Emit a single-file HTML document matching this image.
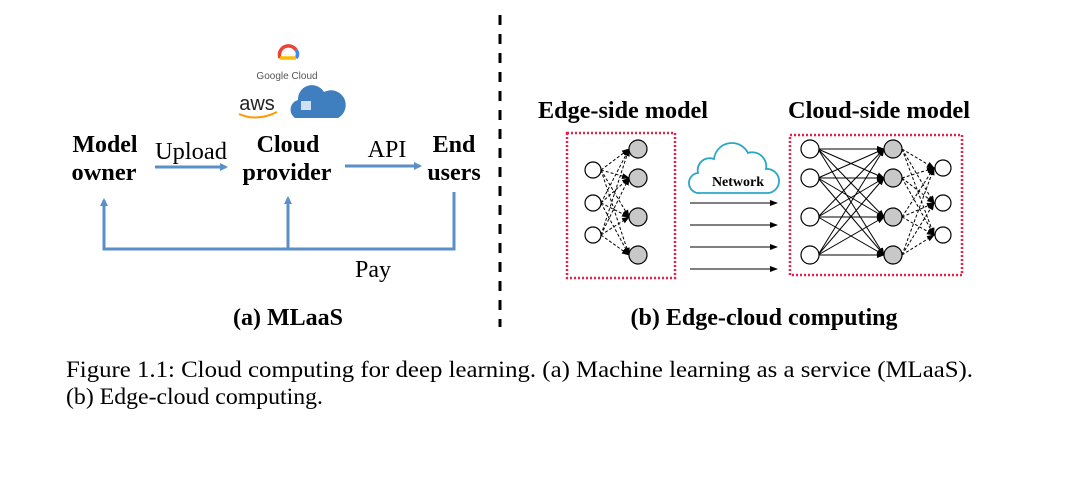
<!DOCTYPE html>
<html><head><style>
body{margin:0;background:#fff;}
svg text{font-family:"Liberation Serif",serif;}
</style></head><body>
<svg width="1080" height="493" viewBox="0 0 1080 493" xmlns="http://www.w3.org/2000/svg">
<defs>
<marker id="ba" markerWidth="8" markerHeight="8" refX="6" refY="4" orient="auto" markerUnits="userSpaceOnUse"><path d="M0,0 L8,4 L0,8 z" fill="#5b8fc7"/></marker>
<marker id="ka" markerWidth="8" markerHeight="8" refX="7" refY="4" orient="auto" markerUnits="userSpaceOnUse"><path d="M0,1 L8,4 L0,7 z" fill="#000"/></marker>
</defs>
<g>
<path d="M280,58 a9,9 0 0 1 16,-8" fill="none" stroke="#ea4335" stroke-width="3.5"/>
<path d="M296,50 a6,6 0 0 1 0,8" fill="none" stroke="#4285f4" stroke-width="3.5"/>
<path d="M280,58 h16" stroke="#fbbc04" stroke-width="3.5"/>
<text x="287" y="79" font-size="10" fill="#555" text-anchor="middle" style="font-family:'Liberation Sans',sans-serif">Google Cloud</text>
<text x="257" y="110" font-size="20" fill="#222" text-anchor="middle" style="font-family:'Liberation Sans',sans-serif">aws</text>
<path d="M239,114 q18,8 38,-2" stroke="#f90" stroke-width="2" fill="none"/>
<path d="M295,118 a10,10 0 0 1 3,-18 a14,14 0 0 1 26,-8 a13,13 0 0 1 14,26 z" fill="#3f7fc0"/>
<rect x="301" y="101" width="10" height="9" fill="#cfe0f2"/>
</g>
<g font-weight="bold" font-size="24" text-anchor="middle">
<text x="105" y="152" textLength="65" lengthAdjust="spacingAndGlyphs">Model</text><text x="104" y="180" textLength="65" lengthAdjust="spacingAndGlyphs">owner</text>
<text x="288" y="152">Cloud</text><text x="287" y="180">provider</text>
<text x="454" y="152">End</text><text x="454" y="180">users</text>
</g>
<text x="191" y="159" font-size="24" text-anchor="middle" textLength="72" lengthAdjust="spacingAndGlyphs">Upload</text>
<text x="387" y="157" font-size="24" text-anchor="middle">API</text>
<text x="373" y="277" font-size="24" text-anchor="middle">Pay</text>
<g stroke="#5b8fc7" stroke-width="3" fill="none">
<line x1="155" y1="167" x2="226" y2="167" marker-end="url(#ba)"/>
<line x1="345" y1="166" x2="420" y2="166" marker-end="url(#ba)"/>
<polyline points="454,192 454,249 104,249 104,200" marker-end="url(#ba)"/>
<line x1="288" y1="249" x2="288" y2="198" marker-end="url(#ba)"/>
</g>
<text x="288" y="325" font-size="24" font-weight="bold" text-anchor="middle">(a) MLaaS</text>
<line x1="500" y1="15" x2="500" y2="327" stroke="#000" stroke-width="3" stroke-dasharray="10,9"/>
<text x="623" y="118" font-size="24" font-weight="bold" text-anchor="middle" textLength="170" lengthAdjust="spacingAndGlyphs">Edge-side model</text>
<text x="879" y="118" font-size="24" font-weight="bold" text-anchor="middle" textLength="182" lengthAdjust="spacingAndGlyphs">Cloud-side model</text>
<rect x="567" y="133" width="108" height="145" fill="none" stroke="#e8204a" stroke-width="2.5" stroke-dasharray="2,2"/>
<rect x="790" y="135" width="172" height="140" fill="none" stroke="#e8204a" stroke-width="2.5" stroke-dasharray="2,2"/>
<g stroke="#000" stroke-width="1" stroke-dasharray="3,2">
<line x1="601" y1="170" x2="629" y2="149" marker-end="url(#ka)"/><line x1="601" y1="170" x2="629" y2="178" marker-end="url(#ka)"/><line x1="601" y1="170" x2="629" y2="217" marker-end="url(#ka)"/><line x1="601" y1="170" x2="629" y2="255" marker-end="url(#ka)"/>
<line x1="601" y1="203" x2="629" y2="149" marker-end="url(#ka)"/><line x1="601" y1="203" x2="629" y2="178" marker-end="url(#ka)"/><line x1="601" y1="203" x2="629" y2="217" marker-end="url(#ka)"/><line x1="601" y1="203" x2="629" y2="255" marker-end="url(#ka)"/>
<line x1="601" y1="235" x2="629" y2="149" marker-end="url(#ka)"/><line x1="601" y1="235" x2="629" y2="178" marker-end="url(#ka)"/><line x1="601" y1="235" x2="629" y2="217" marker-end="url(#ka)"/><line x1="601" y1="235" x2="629" y2="255" marker-end="url(#ka)"/>
<line x1="902" y1="149" x2="934" y2="168" marker-end="url(#ka)"/><line x1="902" y1="149" x2="934" y2="203" marker-end="url(#ka)"/><line x1="902" y1="149" x2="934" y2="235" marker-end="url(#ka)"/>
<line x1="902" y1="178" x2="934" y2="168" marker-end="url(#ka)"/><line x1="902" y1="178" x2="934" y2="203" marker-end="url(#ka)"/><line x1="902" y1="178" x2="934" y2="235" marker-end="url(#ka)"/>
<line x1="902" y1="217" x2="934" y2="168" marker-end="url(#ka)"/><line x1="902" y1="217" x2="934" y2="203" marker-end="url(#ka)"/><line x1="902" y1="217" x2="934" y2="235" marker-end="url(#ka)"/>
<line x1="902" y1="255" x2="934" y2="168" marker-end="url(#ka)"/><line x1="902" y1="255" x2="934" y2="203" marker-end="url(#ka)"/><line x1="902" y1="255" x2="934" y2="235" marker-end="url(#ka)"/>
</g>
<g stroke="#000" stroke-width="1">
<line x1="818" y1="149" x2="884" y2="149" marker-end="url(#ka)"/><line x1="818" y1="149" x2="884" y2="178" marker-end="url(#ka)"/><line x1="818" y1="149" x2="884" y2="217" marker-end="url(#ka)"/><line x1="818" y1="149" x2="884" y2="255" marker-end="url(#ka)"/>
<line x1="818" y1="178" x2="884" y2="149" marker-end="url(#ka)"/><line x1="818" y1="178" x2="884" y2="178" marker-end="url(#ka)"/><line x1="818" y1="178" x2="884" y2="217" marker-end="url(#ka)"/><line x1="818" y1="178" x2="884" y2="255" marker-end="url(#ka)"/>
<line x1="818" y1="217" x2="884" y2="149" marker-end="url(#ka)"/><line x1="818" y1="217" x2="884" y2="178" marker-end="url(#ka)"/><line x1="818" y1="217" x2="884" y2="217" marker-end="url(#ka)"/><line x1="818" y1="217" x2="884" y2="255" marker-end="url(#ka)"/>
<line x1="818" y1="255" x2="884" y2="149" marker-end="url(#ka)"/><line x1="818" y1="255" x2="884" y2="178" marker-end="url(#ka)"/><line x1="818" y1="255" x2="884" y2="217" marker-end="url(#ka)"/><line x1="818" y1="255" x2="884" y2="255" marker-end="url(#ka)"/>
<line x1="690" y1="203" x2="777" y2="203" marker-end="url(#ka)"/>
<line x1="690" y1="225" x2="777" y2="225" marker-end="url(#ka)"/>
<line x1="690" y1="247" x2="777" y2="247" marker-end="url(#ka)"/>
<line x1="690" y1="269" x2="777" y2="269" marker-end="url(#ka)"/>
</g>
<g stroke="#000" stroke-width="1.2">
<circle cx="593" cy="170" r="8" fill="#fff"/><circle cx="593" cy="203" r="8" fill="#fff"/><circle cx="593" cy="235" r="8" fill="#fff"/>
<circle cx="638" cy="149" r="9" fill="#c8c8c8"/><circle cx="638" cy="178" r="9" fill="#c8c8c8"/><circle cx="638" cy="217" r="9" fill="#c8c8c8"/><circle cx="638" cy="255" r="9" fill="#c8c8c8"/>
<circle cx="810" cy="149" r="9" fill="#fff"/><circle cx="810" cy="178" r="9" fill="#fff"/><circle cx="810" cy="217" r="9" fill="#fff"/><circle cx="810" cy="255" r="9" fill="#fff"/>
<circle cx="893" cy="149" r="9" fill="#c8c8c8"/><circle cx="893" cy="178" r="9" fill="#c8c8c8"/><circle cx="893" cy="217" r="9" fill="#c8c8c8"/><circle cx="893" cy="255" r="9" fill="#c8c8c8"/>
<circle cx="943" cy="168" r="8" fill="#fff"/><circle cx="943" cy="203" r="8" fill="#fff"/><circle cx="943" cy="235" r="8" fill="#fff"/>
</g>
<path d="M700,193 a10,10 0 0 1 -2,-20 a12,12 0 0 1 16,-14 a18,18 0 0 1 34,-6 a14,14 0 0 1 18,16 a10,10 0 0 1 2,24 z" fill="#fff" stroke="#2aa6c8" stroke-width="1.8"/>
<text x="738" y="186" font-size="14" font-weight="bold" text-anchor="middle">Network</text>
<text x="764" y="325" font-size="24" font-weight="bold" text-anchor="middle" textLength="267" lengthAdjust="spacingAndGlyphs">(b) Edge-cloud computing</text>
<text x="66" y="377" font-size="23" textLength="907" lengthAdjust="spacingAndGlyphs">Figure 1.1: Cloud computing for deep learning. (a) Machine learning as a service (MLaaS).</text>
<text x="66" y="404" font-size="23" textLength="257" lengthAdjust="spacingAndGlyphs">(b) Edge-cloud computing.</text>
</svg>
</body></html>
